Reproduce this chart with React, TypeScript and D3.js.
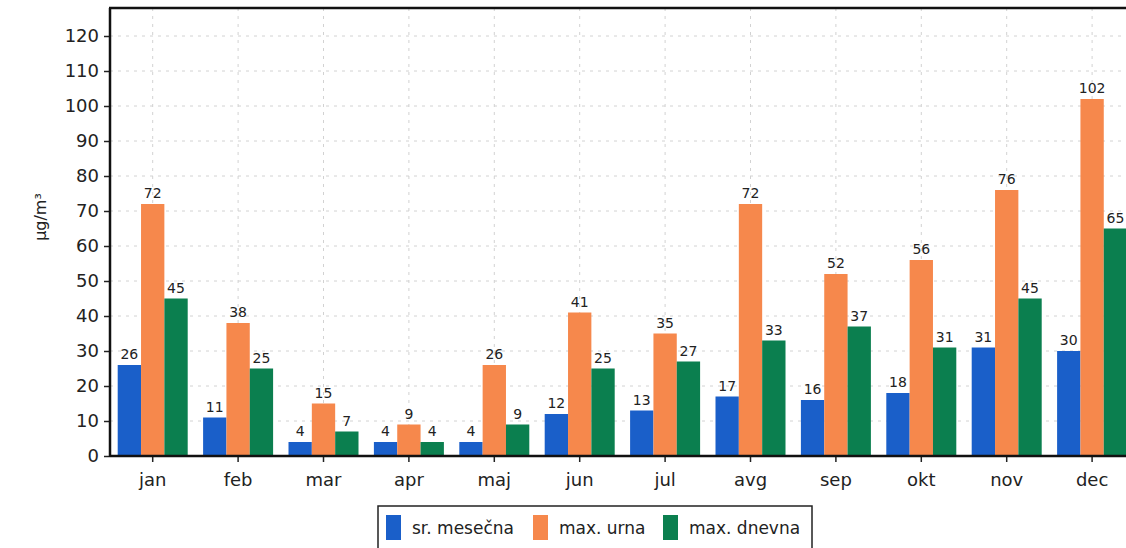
import { useEffect, useRef } from 'react';
import * as d3 from 'd3';

const months = ['jan', 'feb', 'mar', 'apr', 'maj', 'jun', 'jul', 'avg', 'sep', 'okt', 'nov', 'dec'];
const srMesecna = [26, 11, 4, 4, 4, 12, 13, 17, 16, 18, 31, 30];
const maxUrna = [72, 38, 15, 9, 26, 41, 35, 72, 52, 56, 76, 102];
const maxDnevna = [45, 25, 7, 4, 9, 25, 27, 33, 37, 31, 45, 65];
const seriesNames = ['sr. mesečna', 'max. urna', 'max. dnevna'];
const yTicks = [0, 10, 20, 30, 40, 50, 60, 70, 80, 90, 100, 110, 120];

const colors = ['#1a5fc9', '#f6884c', '#0b7f4f'];
const font = 'Verdana, "DejaVu Sans", sans-serif';

export default function App() {
  const ref = useRef<SVGSVGElement>(null);

  useEffect(() => {
    const svg = d3.select(ref.current);
    svg.selectAll('*').remove();

    const left = 110;
    const top = 8;
    const bottom = 456;

    const y = d3.scaleLinear().domain([0, 128]).range([bottom, top]);
    const x = d3
      .scaleBand()
      .domain(months)
      .range([left, left + 12 * 85.4]);
    const inner = d3
      .scaleBand()
      .domain(seriesNames)
      .range([x.bandwidth() / 2 - 35, x.bandwidth() / 2 + 35]);

    const series = [srMesecna, maxUrna, maxDnevna];

    // grid
    const grid = svg.append('g').attr('stroke', '#d2d2d2').attr('stroke-dasharray', '3,5').attr('stroke-width', 1);
    yTicks.slice(1).forEach(t => {
      grid.append('line').attr('x1', left).attr('x2', 1126).attr('y1', y(t)).attr('y2', y(t));
    });
    months.forEach(m => {
      const cx = x(m)! + x.bandwidth() / 2;
      grid.append('line').attr('x1', cx).attr('x2', cx).attr('y1', top).attr('y2', bottom);
    });

    // bars
    series.forEach((vals, si) => {
      const g = svg.append('g');
      g.selectAll('rect')
        .data(vals)
        .enter()
        .append('rect')
        .attr('x', (d, i) => x(months[i])! + inner(seriesNames[si])!)
        .attr('width', inner.bandwidth())
        .attr('y', d => y(d))
        .attr('height', d => bottom - y(d))
        .attr('fill', colors[si]);
      g.selectAll('text')
        .data(vals)
        .enter()
        .append('text')
        .attr('x', (d, i) => x(months[i])! + inner(seriesNames[si])! + inner.bandwidth() / 2)
        .attr('y', d => y(d) - 6)
        .attr('text-anchor', 'middle')
        .style('font-family', font)
        .style('font-size', '14px')
        .attr('fill', '#222')
        .text(d => d);
    });

    // axes
    const yAxis = d3.axisLeft(y).tickValues(yTicks).tickSize(6).tickPadding(5);
    const ya = svg.append('g').attr('transform', `translate(${left},0)`).call(yAxis);
    ya.select('.domain').remove();
    ya.selectAll('text').style('font-family', font).style('font-size', '18px').attr('fill', '#222');
    ya.selectAll('line').attr('stroke', '#222').attr('stroke-width', 1.5);

    const xAxis = d3.axisBottom(x).tickSize(6).tickPadding(11);
    const xa = svg.append('g').attr('transform', `translate(0,${bottom})`).call(xAxis);
    xa.select('.domain').remove();
    xa.selectAll('text').style('font-family', font).style('font-size', '18px').attr('fill', '#222');
    xa.selectAll('line').attr('stroke', '#222').attr('stroke-width', 1.5);

    svg.append('line').attr('x1', left).attr('x2', left).attr('y1', top).attr('y2', bottom + 1).attr('stroke', '#111').attr('stroke-width', 2.5);
    svg.append('line').attr('x1', left).attr('x2', 1126).attr('y1', bottom).attr('y2', bottom).attr('stroke', '#111').attr('stroke-width', 2.5);
    svg.append('line').attr('x1', left - 1).attr('x2', 1126).attr('y1', top).attr('y2', top).attr('stroke', '#111').attr('stroke-width', 2.5);

    // y label
    svg
      .append('text')
      .attr('transform', 'translate(46,217) rotate(-90)')
      .attr('text-anchor', 'middle')
      .style('font-family', font)
      .style('font-size', '16px')
      .attr('fill', '#222')
      .text('µg/m³');

    // legend
    const lg = svg.append('g');
    lg.append('rect').attr('x', 378).attr('y', 506).attr('width', 434).attr('height', 48).attr('fill', 'white').attr('stroke', '#222').attr('stroke-width', 1.5);
    const lx = [386, 533, 663];
    seriesNames.forEach((n, i) => {
      lg.append('rect').attr('x', lx[i]).attr('y', 515).attr('width', 15).attr('height', 25).attr('fill', colors[i]);
      lg.append('text')
        .attr('x', lx[i] + 26)
        .attr('y', 534)
        .style('font-family', font)
        .style('font-size', '17px')
        .attr('fill', '#222')
        .text(n);
    });
  }, []);

  return (
    <svg
      ref={ref}
      width={1126}
      height={548}
      style={{ position: 'absolute', left: 0, top: 0, background: 'white' }}
    />
  );
}
